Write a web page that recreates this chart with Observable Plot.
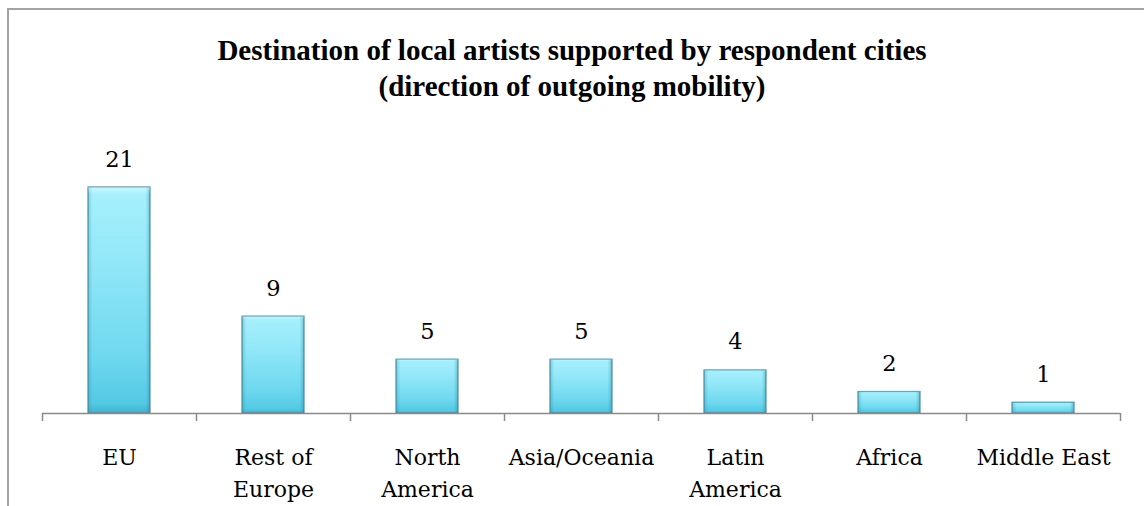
<!DOCTYPE html>
<html>
<head>
<meta charset="utf-8">
<script src="https://cdn.jsdelivr.net/npm/d3@7"></script>
<script src="https://cdn.jsdelivr.net/npm/@observablehq/plot@0.6"></script>
<style>
  html, body { margin: 0; padding: 0; background: #fff; }
  #wrap { position: relative; width: 1144px; height: 506px; overflow: hidden; background: #fff; }
  #frame { position: absolute; left: 7px; top: 8px; width: 1200px; height: 600px;
           border-top: 2px solid #a3a3a3; border-left: 2px solid #a3a3a3; pointer-events: none; }
  #title { position: relative; height: 120px; box-sizing: border-box; padding-top: 32px;
           text-align: center; font-family: "Liberation Serif", serif; font-weight: bold;
           font-size: 29px; line-height: 36px; color: #000; }
  #chart svg { display: block; }
</style>
</head>
<body>
<div id="wrap">
  <div id="frame"></div>
  <div id="title">Destination of local artists supported by respondent cities<br>(direction of outgoing mobility)</div>
  <div id="chart"></div>
</div>
<script>
const categories = ["EU", "Rest of Europe", "North America", "Asia/Oceania", "Latin America", "Africa", "Middle East"];
const tickLabels = ["EU", "Rest of\nEurope", "North\nAmerica", "Asia/Oceania", "Latin\nAmerica", "Africa", "Middle East"];
const values = [21, 9, 5, 5, 4, 2, 1];

const data = categories.map((c, i) => ({category: c, label: tickLabels[i], value: values[i]}));

const W = 1144, H = 386;
const marginLeft = 42, marginRight = 24, marginTop = 67, marginBottom = 93;
const step = (W - marginLeft - marginRight) / categories.length;

const chart = Plot.plot({
  width: W,
  height: H,
  marginLeft, marginRight, marginTop, marginBottom,
  style: {fontFamily: "DejaVu Serif", fontSize: "22px", color: "#000", background: "transparent"},
  x: {type: "band", domain: categories, paddingInner: 0.6, paddingOuter: 0.3, axis: null},
  y: {domain: [0, 21], axis: null},
  marks: [
    Plot.barY(data, {x: "category", y: "value", fill: "url(#barGrad)", stroke: "#4f8fa2", strokeWidth: 1.2}),
    Plot.barY(data, {x: "category", y: "value", fill: "url(#edgeGrad)"}),
    Plot.barY(data, {x: "category", y: "value", fill: "url(#bevelGrad)"}),
    Plot.ruleY([0], {stroke: "#8a8a8a", strokeWidth: 1.5}),
    Plot.ruleX(categories, {x: d => d, y1: 0, y2: 0, insetBottom: -8, dx: -step / 2, stroke: "#8a8a8a", strokeWidth: 1.5}),
    Plot.ruleX(categories.slice(-1), {x: d => d, y1: 0, y2: 0, insetBottom: -8, dx: step / 2, stroke: "#8a8a8a", strokeWidth: 1.5}),
    Plot.text(data, {x: "category", y: "value", text: d => String(d.value), lineAnchor: "bottom", dy: -21, fontSize: 22.5, fill: "#000"}),
    Plot.text(data, {x: "category", y: () => 0, text: "label", lineAnchor: "top", dy: 29, lineHeight: 1.45, fontSize: 22, fill: "#000"})
  ]
});

const defs = d3.select(chart).insert("defs", ":first-child");
const g1 = defs.append("linearGradient").attr("id", "barGrad").attr("x1", 0).attr("y1", 0).attr("x2", 0).attr("y2", 1);
[[0, "#b4f3fd"], [0.04, "#a6effc"], [0.3, "#94e8f8"], [0.75, "#6fd8ef"], [1, "#4ec6e2"]]
  .forEach(([o, c]) => g1.append("stop").attr("offset", o).attr("stop-color", c));
const g2 = defs.append("linearGradient").attr("id", "edgeGrad").attr("x1", 0).attr("y1", 0).attr("x2", 1).attr("y2", 0);
[[0, "#1f7f9a", 0.3], [0.07, "#1f7f9a", 0.0], [0.93, "#1f7f9a", 0.0], [1, "#1f7f9a", 0.38]]
  .forEach(([o, c, a]) => g2.append("stop").attr("offset", o).attr("stop-color", c).attr("stop-opacity", a));
const g3 = defs.append("linearGradient").attr("id", "bevelGrad").attr("x1", 0).attr("y1", 0).attr("x2", 0).attr("y2", 1);
[[0, "#ffffff", 0.35], [0.03, "#ffffff", 0.0], [0.96, "#1f7f9a", 0.0], [1, "#1f7f9a", 0.3]]
  .forEach(([o, c, a]) => g3.append("stop").attr("offset", o).attr("stop-color", c).attr("stop-opacity", a));

document.getElementById("chart").appendChild(chart);
</script>
</body>
</html>
